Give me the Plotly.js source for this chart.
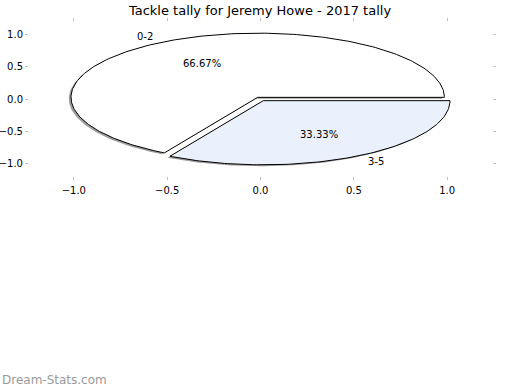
<!DOCTYPE html>
<html><head><meta charset="utf-8">
<script src="https://cdn.plot.ly/plotly-3.0.1.min.js"></script>
<style>body{margin:0;padding:0;background:#fff}#chart{width:520px;height:390px}</style>
</head><body><div id="chart"></div>
<script>
const labels = ['0-2', '3-5'];
const values = [2, 1];
const colors = ['#ffffff', '#eaf0fc'];
const explode = [0.03, 0.03];
const titleText = 'Tackle tally for Jeremy Howe - 2017 tally';
const tickVals = [-1.0, -0.5, 0.0, 0.5, 1.0];

const total = values.reduce((a, b) => a + b, 0);
const traces = [];
const shadowTraces = [];
const annotations = [];
let cum = 0;
function slicePts(cx, cy, t1, t2) {
  const xs = [cx], ys = [cy];
  const n = Math.max(2, Math.ceil((t2 - t1) / 1));
  for (let i = 0; i <= n; i++) {
    const t = (t1 + (t2 - t1) * i / n) * Math.PI / 180;
    xs.push(cx + Math.cos(t)); ys.push(cy + Math.sin(t));
  }
  xs.push(cx); ys.push(cy);
  return [xs, ys];
}
values.forEach((v, i) => {
  const t1 = 360 * cum / total;
  cum += v;
  const t2 = 360 * cum / total;
  const mid = (t1 + t2) / 2 * Math.PI / 180;
  const cx = explode[i] * Math.cos(mid), cy = explode[i] * Math.sin(mid);
  const [xs, ys] = slicePts(cx, cy, t1, t2);
  shadowTraces.push({
    type: 'scatter', mode: 'lines', x: xs.map(x => x - 0.012), y: ys.map(y => y - 0.022),
    fill: 'toself', fillcolor: 'rgba(60,60,60,0.5)', line: {width: 0, color: 'rgba(0,0,0,0)'},
    hoverinfo: 'skip', showlegend: false
  });
  traces.push({
    type: 'scatter', mode: 'lines', x: xs, y: ys, fill: 'toself', fillcolor: colors[i],
    line: {width: 1, color: '#000'}, hoverinfo: 'skip', showlegend: false
  });
  const lx = cx + 1.1 * Math.cos(mid), ly = cy + 1.1 * Math.sin(mid);
  annotations.push({x: lx, y: ly, xref: 'x', yref: 'y', text: labels[i], showarrow: false,
    xanchor: lx < 0 ? 'right' : 'left', yanchor: 'middle', font: {size: 10, color: '#000'}});
  const px = cx + 0.6 * Math.cos(mid), py = cy + 0.6 * Math.sin(mid);
  annotations.push({x: px, y: py, xref: 'x', yref: 'y', text: (100 * v / total).toFixed(2) + '%',
    showarrow: false, xanchor: 'center', yanchor: 'middle', font: {size: 10, color: '#000'}});
});
annotations.push({x: 0, y: 0.026, xref: 'paper', yref: 'paper', text: 'Dream-Stats.com', showarrow: false,
  xanchor: 'left', yanchor: 'middle', font: {size: 12, color: '#9a9a9a'}});

const axCommon = {showgrid: false, zeroline: false, showline: false, ticks: 'outside', ticklen: 3,
  tickwidth: 1, tickcolor: '#c0c0c0', mirror: 'ticks', tickvals: tickVals,
  ticktext: tickVals.map(v => (v < 0 ? '\u2212' : '') + Math.abs(v).toFixed(1)),
  tickfont: {size: 10, color: '#000'}, fixedrange: true};

const layout = {
  width: 520, height: 390, margin: {l: 0, r: 0, t: 0, b: 0},
  paper_bgcolor: '#fff', plot_bgcolor: '#fff',
  font: {family: 'DejaVu Sans', color: '#000'},
  title: {text: titleText, x: 0.5, xref: 'paper', xanchor: 'center', y: 0.974, yref: 'container', yanchor: 'middle',
    font: {size: 13, color: '#000', family: 'DejaVu Sans'}},
  xaxis: Object.assign({}, axCommon, {range: [-1.24, 1.24], domain: [29 / 520, 492 / 520], ticklabelstandoff: 2}),
  yaxis: Object.assign({}, axCommon, {range: [-1.2, 1.2], domain: [(390 - 176) / 390, (390 - 22) / 390], ticklabelstandoff: 0}),
  annotations: annotations, showlegend: false
};
Plotly.newPlot('chart', shadowTraces.concat(traces), layout, {staticPlot: true, displayModeBar: false});
</script></body></html>
